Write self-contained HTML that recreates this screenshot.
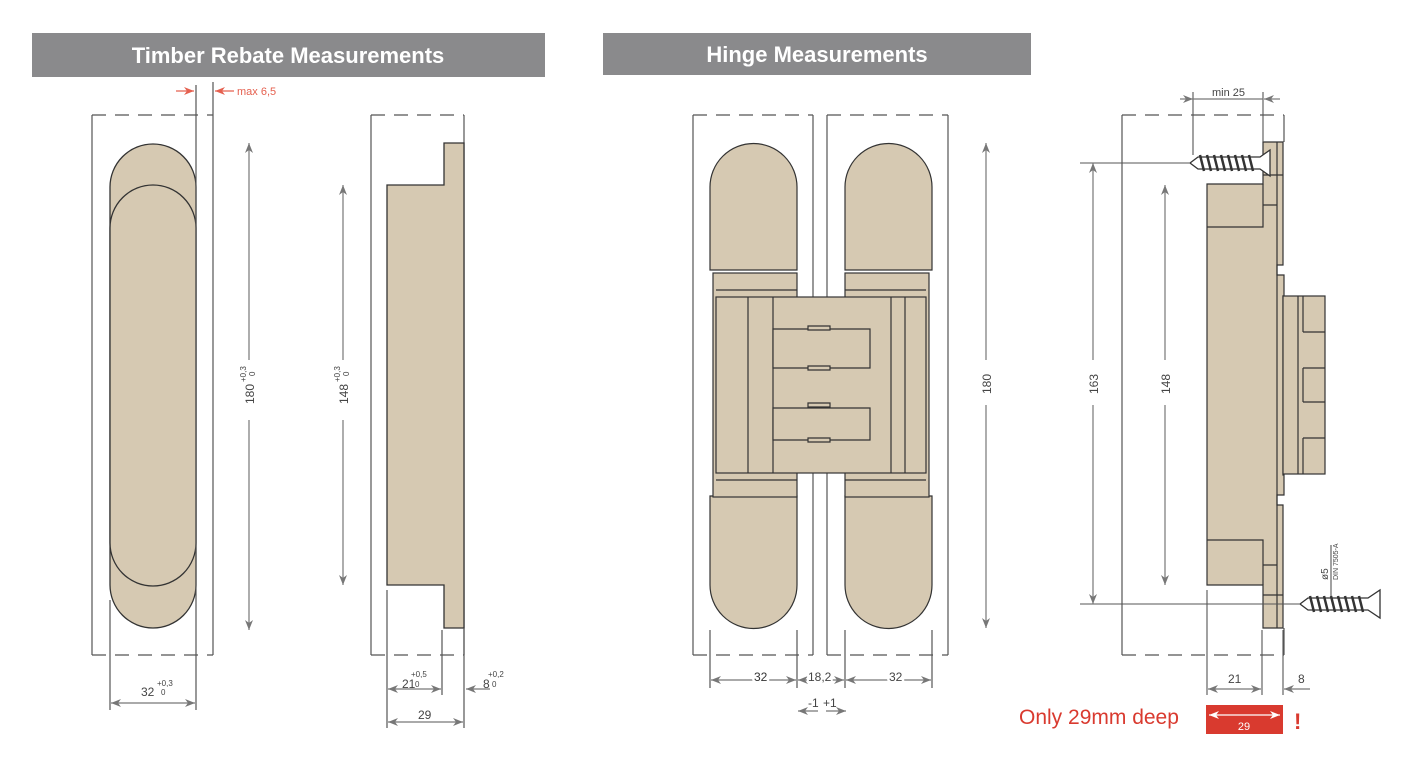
<!DOCTYPE html>
<html><head><meta charset="utf-8"><style>
html,body{margin:0;padding:0;background:#fff}
svg{display:block}
text{font-family:"Liberation Sans",sans-serif}
</style></head><body>
<svg width="1413" height="767" viewBox="0 0 1413 767" xmlns="http://www.w3.org/2000/svg">
<defs>
<marker id="a" viewBox="0 0 10 10" refX="10" refY="5" markerWidth="10" markerHeight="10" orient="auto-start-reverse" markerUnits="userSpaceOnUse"><path d="M0,1 L10,5 L0,9 L3,5 Z" fill="#777"/></marker>
<marker id="r" viewBox="0 0 10 10" refX="10" refY="5" markerWidth="10" markerHeight="10" orient="auto-start-reverse" markerUnits="userSpaceOnUse"><path d="M0,1 L10,5 L0,9 L3,5 Z" fill="#e5604f"/></marker>
<marker id="w" viewBox="0 0 10 10" refX="10" refY="5" markerWidth="10" markerHeight="10" orient="auto-start-reverse" markerUnits="userSpaceOnUse"><path d="M0,1 L10,5 L0,9 L3,5 Z" fill="#fff"/></marker>
</defs>
<!-- headers -->
<rect x="32" y="33" width="513" height="44" fill="#8a8a8c"/>
<text x="288" y="63" font-size="22" font-weight="bold" fill="#fff" text-anchor="middle">Timber Rebate Measurements</text>
<rect x="603" y="33" width="428" height="42" fill="#8a8a8c"/>
<text x="817" y="62" font-size="22" font-weight="bold" fill="#fff" text-anchor="middle">Hinge Measurements</text>

<g stroke="#555" stroke-width="1.2" fill="none">
<!-- diagram 1 box -->
<path d="M92,115 V655 M213,115 V655"/>
<path d="M92,115 H213 M92,655 H213" stroke-dasharray="14,9"/>
</g>
<g stroke="#333" stroke-width="1.3" fill="#d6c9b2">
<path d="M110,187 A43,43 0 0 1 196,187 V585 A43,43 0 0 1 110,585 Z"/>
<path d="M110,228 A43,43 0 0 1 196,228 V543 A43,43 0 0 1 110,543 Z" fill="#d6c9b2"/>
</g>
<g stroke="#555" stroke-width="1.2" fill="none">
<path d="M196,85 V710 M213,82 V115 M110,600 V710"/>
<line x1="176" y1="91" x2="194" y2="91" stroke="#e5604f" marker-end="url(#r)"/>
<line x1="234" y1="91" x2="215" y2="91" stroke="#e5604f" marker-end="url(#r)"/>
<line x1="249" y1="360" x2="249" y2="143" stroke="#777" marker-end="url(#a)"/>
<line x1="249" y1="420" x2="249" y2="630" stroke="#777" marker-end="url(#a)"/>
<line x1="111" y1="703" x2="195" y2="703" stroke="#777" marker-start="url(#a)" marker-end="url(#a)"/>
</g>
<text x="237" y="95" font-size="11" fill="#e5604f">max 6,5</text>
<g font-size="12" fill="#444">
<text transform="translate(254,404) rotate(-90)">180</text>
<text transform="translate(246,382) rotate(-90)" font-size="8">+0,3</text>
<text transform="translate(255,376) rotate(-90)" font-size="8">0</text>
<text x="141" y="696">32</text>
<text x="157" y="686" font-size="8">+0,3</text>
<text x="161" y="695" font-size="8">0</text>
</g>

<!-- diagram 2 -->
<g stroke="#555" stroke-width="1.2" fill="none">
<path d="M371,115 V655 M464,115 V655"/>
<path d="M371,115 H464 M371,655 H464" stroke-dasharray="14,9"/>
</g>
<path d="M387,185 H444 V143 H464 V628 H444 V585 H387 Z" fill="#d6c9b2" stroke="#333" stroke-width="1.3"/>
<g stroke="#777" stroke-width="1.2" fill="none">
<path d="M387,590 V728 M442,630 V695 M464,628 V728" stroke="#555"/>
<line x1="343" y1="360" x2="343" y2="185" marker-end="url(#a)"/>
<line x1="343" y1="420" x2="343" y2="585" marker-end="url(#a)"/>
<line x1="388" y1="689" x2="441" y2="689" marker-start="url(#a)" marker-end="url(#a)"/>
<line x1="388" y1="722" x2="463" y2="722" marker-start="url(#a)" marker-end="url(#a)"/>
<line x1="490" y1="689" x2="466" y2="689" marker-end="url(#a)"/>
</g>
<g font-size="12" fill="#444">
<text transform="translate(348,404) rotate(-90)">148</text>
<text transform="translate(340,382) rotate(-90)" font-size="8">+0,3</text>
<text transform="translate(349,376) rotate(-90)" font-size="8">0</text>
<text x="402" y="688">21</text><text x="411" y="677" font-size="8">+0,5</text><text x="415" y="687" font-size="8">0</text>
<text x="483" y="688">8</text><text x="488" y="677" font-size="8">+0,2</text><text x="492" y="687" font-size="8">0</text>
<text x="418" y="719">29</text>
</g>

<!-- hinge front view -->
<g stroke="#555" stroke-width="1.2" fill="none">
<path d="M693,115 V655 M813,115 V655 M827,115 V655 M948,115 V655"/>
<path d="M693,115 H813 M827,115 H948 M693,655 H813 M827,655 H948" stroke-dasharray="14,9"/>
</g>
<g stroke="#333" stroke-width="1.2" fill="#d6c9b2">
<path d="M710,187 A43.5,43.5 0 0 1 797,187 V270 H710 Z"/>
<path d="M845,187 A43.5,43.5 0 0 1 932,187 V270 H845 Z"/>
<path d="M710,496 H797 V585 A43.5,43.5 0 0 1 710,585 Z"/>
<path d="M845,496 H932 V585 A43.5,43.5 0 0 1 845,585 Z"/>
<rect x="713" y="273" width="84" height="224"/>
<rect x="845" y="273" width="84" height="224"/>
<rect x="716" y="297" width="210" height="176"/>
<path d="M748,297 V473 M773,297 V473 M905,297 V473 M891,297 V473 M716,290 H797 M716,480 H797 M845,290 H926 M845,480 H926"/>
<path d="M773,329 H870 V368 H773 Z M773,408 H870 V440 H773 Z" fill="#d6c9b2"/>
<path d="M808,326 h22 v4 h-22 Z M808,366 h22 v4 h-22 Z M808,403 h22 v4 h-22 Z M808,438 h22 v4 h-22 Z"/>
</g>
<g stroke="#777" stroke-width="1.2" fill="none">
<path d="M710,630 V688 M797,630 V688 M845,630 V688 M932,630 V688" stroke="#555"/>
<line x1="986" y1="360" x2="986" y2="143" marker-end="url(#a)"/>
<line x1="986" y1="405" x2="986" y2="628" marker-end="url(#a)"/>
<line x1="711" y1="680" x2="796" y2="680" marker-start="url(#a)" marker-end="url(#a)"/>
<line x1="798" y1="680" x2="844" y2="680" marker-start="url(#a)" marker-end="url(#a)"/>
<line x1="846" y1="680" x2="931" y2="680" marker-start="url(#a)" marker-end="url(#a)"/>
<line x1="818" y1="711" x2="798" y2="711" marker-end="url(#a)"/>
<line x1="826" y1="711" x2="846" y2="711" marker-end="url(#a)"/>
</g>
<g font-size="12" fill="#444">
<text x="754" y="681" fill="#333" stroke="#fff" stroke-width="5" paint-order="stroke">32</text>
<text x="889" y="681" stroke="#fff" stroke-width="5" paint-order="stroke">32</text>
<text x="808" y="681" stroke="#fff" stroke-width="4" paint-order="stroke">18,2</text>
<text x="808" y="707">-1</text><text x="823" y="707">+1</text>
<text transform="translate(991,394) rotate(-90)">180</text>
</g>

<!-- side view -->
<g stroke="#555" stroke-width="1.2" fill="none">
<path d="M1122,115 V655"/>
<path d="M1122,115 H1284 M1122,655 H1284" stroke-dasharray="14,9"/>
<path d="M1284,115 V142 M1284,628 V655"/>
</g>
<g stroke="#333" stroke-width="1.2" fill="#d6c9b2">
<path d="M1207,184 H1263 V142 H1283 V265 H1277 V275 H1284 V296 H1283 V475 H1284 V495 H1277 V505 H1283 V628 H1263 V585 H1207 Z"/>
<rect x="1283" y="296" width="42" height="178"/>
<path d="M1207,227 H1263 V184 M1263,205 H1277 V265 M1263,175 H1283 M1207,540 H1263 V585 M1263,565 H1277 V505 M1263,595 H1283 M1277,142 V628 M1298,296 V474 M1303,296 V332 M1303,368 V402 M1303,438 V474 M1303,332 H1325 M1303,368 H1325 M1303,402 H1325 M1303,438 H1325" fill="none"/>
</g>
<!-- screws -->
<g stroke="#333" stroke-width="1.3" fill="none">
<path d="M1190,163 L1198,157 H1260 L1270,150 V176 L1260,169 H1198 Z" fill="#fff"/>
<path d="M1200,155 l4,16 M1207,155 l4,16 M1214,155 l4,16 M1221,155 l4,16 M1228,155 l4,16 M1235,155 l4,16 M1242,155 l4,16 M1249,155 l4,16" stroke-width="2.5"/>
<path d="M1300,604 L1308,598 H1368 L1380,590 V618 L1368,610 H1308 Z" fill="#fff"/>
<path d="M1310,596 l4,16 M1317,596 l4,16 M1324,596 l4,16 M1331,596 l4,16 M1338,596 l4,16 M1345,596 l4,16 M1352,596 l4,16 M1359,596 l4,16" stroke-width="2.5"/>
</g>
<g stroke="#555" stroke-width="1.1" fill="none">
<path d="M1080,163 H1190 M1080,604 H1300 M1193,92 V155 M1263,92 V142 M1207,590 V695 M1262,630 V695 M1283,630 V695 M1331,545 V596"/>
</g>
<g stroke="#777" stroke-width="1.2" fill="none">
<line x1="1093" y1="360" x2="1093" y2="163" marker-end="url(#a)"/>
<line x1="1093" y1="405" x2="1093" y2="604" marker-end="url(#a)"/>
<line x1="1165" y1="360" x2="1165" y2="185" marker-end="url(#a)"/>
<line x1="1165" y1="405" x2="1165" y2="585" marker-end="url(#a)"/>
<line x1="1180" y1="99" x2="1193" y2="99" marker-end="url(#a)"/>
<line x1="1280" y1="99" x2="1264" y2="99" marker-end="url(#a)"/>
<line x1="1193" y1="99" x2="1263" y2="99"/>
<line x1="1208" y1="689" x2="1261" y2="689" marker-start="url(#a)" marker-end="url(#a)"/>
<line x1="1310" y1="689" x2="1284" y2="689" marker-end="url(#a)"/>
</g>
<g font-size="12" fill="#444">
<text x="1212" y="96" font-size="11">min 25</text>
<text transform="translate(1098,394) rotate(-90)">163</text>
<text transform="translate(1170,394) rotate(-90)">148</text>
<text x="1228" y="683">21</text>
<text x="1298" y="683">8</text>
<text transform="translate(1328,580) rotate(-90)" font-size="10">ø5</text>
<text transform="translate(1338,580) rotate(-90)" font-size="7">DIN 7505-A</text>
</g>
<rect x="1206" y="705" width="77" height="29" fill="#d93a2f"/>
<line x1="1209" y1="715" x2="1280" y2="715" stroke="#fff" stroke-width="1.2" marker-start="url(#w)" marker-end="url(#w)"/>
<text x="1244" y="730" font-size="11" fill="#fff" text-anchor="middle">29</text>
<text x="1019" y="724" font-size="21" fill="#d93a2f">Only 29mm deep</text>
<text x="1294" y="729" font-size="22" font-weight="bold" fill="#d93a2f">!</text>
</svg>
</body></html>
